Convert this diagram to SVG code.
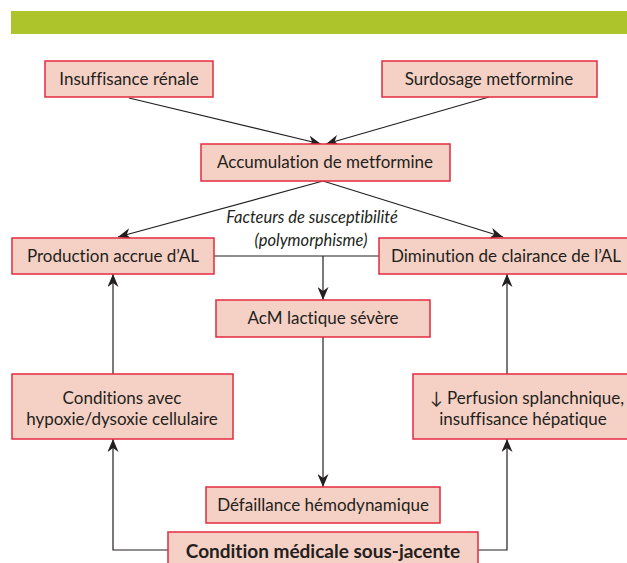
<svg xmlns="http://www.w3.org/2000/svg" width="627" height="563" viewBox="0 0 627 563">
<defs>
<style>
.box{fill:#f5d0c4;stroke:#e32b3f;stroke-width:1.5}
.t{font-family:Lato,"Open Sans","Liberation Sans",sans-serif;font-size:17px;fill:#231f20;text-anchor:middle;font-variant-ligatures:none}
.b{font-weight:bold;font-size:19px}
.i{font-style:italic;font-size:16.5px}
.ln{fill:none;stroke:#231f20;stroke-width:1.2}
.ar{marker-end:url(#ah)}
</style>
<marker id="ah" markerUnits="userSpaceOnUse" markerWidth="14" markerHeight="11" refX="13" refY="5.5" orient="auto" viewBox="0 0 14 11">
<path d="M0,0 L13,5.5 L0,11 L4,5.5 z" fill="#231f20"/>
</marker>
</defs>
<rect x="11" y="11" width="616" height="23" fill="#aec42b"/>
<g id="connectors">
<line class="ln ar" x1="129" y1="98" x2="321" y2="144"/>
<line class="ln ar" x1="489" y1="97" x2="326" y2="144"/>
<line class="ln ar" x1="323" y1="181" x2="118" y2="237"/>
<line class="ln ar" x1="323" y1="181" x2="503" y2="237"/>
<line class="ln" x1="214" y1="256" x2="379" y2="256"/>
<line class="ln ar" x1="323" y1="256" x2="323" y2="300"/>
<line class="ln ar" x1="323" y1="337" x2="323" y2="487"/>
<line class="ln ar" x1="113" y1="374" x2="113" y2="274"/>
<polyline class="ln ar" points="168,550 113,550 113,439"/>
<line class="ln ar" x1="507" y1="374" x2="507" y2="274"/>
<polyline class="ln ar" points="478,550 507,550 507,439"/>
</g>
<g id="n-insuffisance">
<rect class="box" x="45" y="61" width="168" height="36"/>
<text class="t" x="129" y="85">Insuffisance rénale</text>
</g>
<g id="n-surdosage">
<rect class="box" x="382" y="61" width="215" height="36"/>
<text class="t" x="489" y="85">Surdosage metformine</text>
</g>
<g id="n-accumulation">
<rect class="box" x="201" y="144" width="249" height="37"/>
<text class="t" x="325" y="168">Accumulation de metformine</text>
</g>
<g id="n-facteurs">
<text class="t i" x="312" y="223">Facteurs de susceptibilité</text>
<text class="t i" x="311" y="246">(polymorphisme)</text>
</g>
<g id="n-production">
<rect class="box" x="12" y="238" width="202" height="36"/>
<text class="t" x="113" y="262">Production accrue d’AL</text>
</g>
<g id="n-diminution">
<rect class="box" x="379" y="238" width="256" height="36"/>
<text class="t" x="506" y="262">Diminution de clairance de l’AL</text>
</g>
<g id="n-acm">
<rect class="box" x="216" y="300" width="214" height="37"/>
<text class="t" x="323" y="324">AcM lactique sévère</text>
</g>
<g id="n-conditions">
<rect class="box" x="12" y="374" width="221" height="65"/>
<text class="t" x="122" y="404">Conditions avec</text>
<text class="t" x="122" y="425">hypoxie/dysoxie cellulaire</text>
</g>
<g id="n-perfusion">
<rect class="box" x="413" y="374" width="222" height="65"/>
<text class="t" x="527" y="404">↓ Perfusion splanchnique,</text>
<text class="t" x="523" y="425">insuffisance hépatique</text>
</g>
<g id="n-defaillance">
<rect class="box" x="206" y="487" width="234" height="36"/>
<text class="t" x="323" y="511">Défaillance hémodynamique</text>
</g>
<g id="n-condition">
<rect class="box" x="168" y="532" width="310" height="40"/>
<text class="t b" x="323" y="558">Condition médicale sous-jacente</text>
</g>
</svg>
